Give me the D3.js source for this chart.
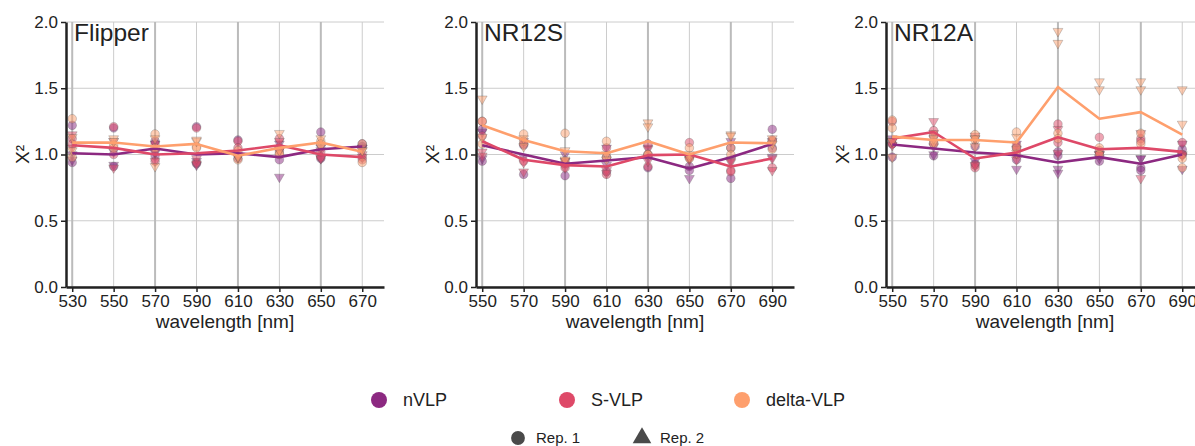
<!DOCTYPE html>
<html>
<head>
<meta charset="utf-8">
<script src="https://cdn.jsdelivr.net/npm/d3@7"></script>
<style>
  body { margin: 0; background: #fff; }
  text { font-family: "Liberation Sans", Arial, sans-serif; fill: #222; }
</style>
</head>
<body>
<div id="chart"></div>
<script>
// wavelengths (nm)
const flipperWaves = [530, 550, 570, 590, 610, 630, 650, 670];
const nr12Waves = [550, 570, 590, 610, 630, 650, 670, 690];

const seriesNames = ["nVLP", "S-VLP", "delta-VLP"];
const repNames = ["Rep. 1", "Rep. 2"];
const panelTitles = ["Flipper", "NR12S", "NR12A"];
const yTicks = [0, 0.5, 1, 1.5, 2];

// ---- Flipper: mean line + single measurements
const flipperNVLP = [1.01, 1.00, 1.045, 1.00, 1.01, 0.98, 1.04, 1.06];
const flipperSVLP = [1.07, 1.05, 1.00, 1.01, 1.03, 1.07, 1.00, 0.98];
const flipperDelta = [1.09, 1.09, 1.06, 1.08, 0.99, 1.05, 1.09, 1.02];
const flipperNVLPRep1 = [[1.22, 0.94], [1.20, 0.91], [1.10, 0.99], [1.21, 0.93], [1.11, 0.97], [1.05, 0.96], [1.17, 0.97], [1.08, 1.06]];
const flipperNVLPRep2 = [[1.00, 0.96], [1.02, 0.92], [1.08, 1.01], [0.95, 0.92], [0.98, 0.98], [1.08, 0.83], [1.05, 0.97], [1.05, 1.05]];
const flipperSVLPRep1 = [[1.12, 1.08], [1.21, 1.00], [1.08, 0.95], [1.20, 0.94], [1.10, 1.05], [1.12, 1.03], [1.02, 0.98], [0.98, 0.96]];
const flipperSVLPRep2 = [[1.15, 1.05], [1.10, 0.90], [1.02, 0.95], [0.97, 0.93], [0.99, 0.98], [1.10, 1.03], [1.03, 0.97], [1.00, 0.98]];
const flipperDeltaRep1 = [[1.27, 0.98], [1.07, 1.05], [1.155, 1.05], [1.06, 1.05], [1.03, 0.96], [1.01, 1.00], [1.10, 1.08], [1.08, 0.94]];
const flipperDeltaRep2 = [[1.13, 1.03], [1.12, 1.10], [0.91, 1.12], [1.10, 1.11], [0.99, 0.98], [1.16, 1.03], [1.12, 1.06], [1.03, 1.03]];

// ---- NR12S
const nr12sNVLP = [1.07, 1.00, 0.93, 0.955, 0.98, 0.895, 0.98, 1.08];
const nr12sSVLP = [1.10, 0.96, 0.92, 0.91, 0.995, 1.00, 0.91, 0.97];
const nr12sDelta = [1.22, 1.11, 1.025, 1.01, 1.10, 1.00, 1.09, 1.085];
const nr12sNVLPRep1 = [[1.19, 0.95], [1.07, 0.85], [0.93, 0.84], [0.98, 0.87], [1.00, 0.90], [0.91, 0.88], [1.05, 0.82], [1.19, 1.05]];
const nr12sNVLPRep2 = [[1.17, 0.97], [1.10, 0.98], [1.00, 0.95], [1.05, 0.92], [1.05, 0.97], [0.97, 0.82], [1.10, 0.96], [1.10, 0.98]];
const nr12sSVLPRep1 = [[1.25, 1.14], [1.08, 0.95], [0.93, 0.90], [1.05, 0.85], [1.08, 0.91], [1.09, 0.98], [0.88, 0.87], [1.11, 0.90]];
const nr12sSVLPRep2 = [[1.02, 0.99], [0.94, 0.87], [0.95, 0.90], [0.88, 0.86], [1.04, 0.95], [0.97, 0.96], [0.94, 0.95], [0.97, 0.88]];
const nr12sDeltaRep1 = [[1.25, 1.08], [1.155, 1.10], [1.16, 0.95], [1.10, 0.98], [1.00, 1.00], [1.05, 0.97], [1.05, 1.00], [1.10, 1.04]];
const nr12sDeltaRep2 = [[1.42, 1.13], [1.12, 1.06], [1.03, 0.96], [1.00, 0.96], [1.24, 1.21], [1.00, 0.98], [1.15, 1.14], [1.12, 1.08]];

// ---- NR12A
const nr12aNVLP = [1.075, 1.045, 1.015, 0.995, 0.94, 0.98, 0.93, 1.00];
const nr12aSVLP = [1.12, 1.17, 0.97, 1.015, 1.13, 1.04, 1.05, 1.02];
const nr12aDelta = [1.135, 1.11, 1.11, 1.09, 1.51, 1.27, 1.32, 1.15];
const nr12aNVLPRep1 = [[1.08, 0.98], [1.14, 0.99], [1.06, 0.93], [1.05, 0.96], [1.02, 0.99], [1.00, 0.95], [0.90, 0.88], [1.04, 1.00]];
const nr12aNVLPRep2 = [[1.12, 1.10], [1.06, 1.00], [1.12, 0.95], [1.08, 0.89], [0.89, 0.86], [1.00, 0.97], [0.97, 0.97], [1.08, 0.89]];
const nr12aSVLPRep1 = [[1.25, 1.08], [1.18, 1.09], [0.92, 0.90], [1.07, 1.00], [1.23, 1.09], [1.13, 1.03], [1.12, 1.10], [1.09, 1.00]];
const nr12aSVLPRep2 = [[1.07, 1.10], [1.25, 1.16], [1.14, 0.92], [1.04, 0.96], [1.19, 1.01], [1.00, 1.00], [1.16, 0.82], [1.00, 0.99]];
const nr12aDeltaRep1 = [[1.26, 1.20], [1.15, 1.08], [1.15, 1.11], [1.17, 1.05], [1.16, 1.12], [1.05, 1.00], [1.16, 1.08], [0.97, 0.90]];
const nr12aDeltaRep2 = [[1.10, 0.98], [1.12, 1.09], [1.12, 1.06], [1.13, 1.01], [1.93, 1.84], [1.55, 1.49], [1.55, 1.49], [1.49, 1.23]];

const COLORS = ["#8c2981", "#de4968", "#fe9f6d"];

const WIDTH = 1195;
const HEIGHT = 446;
const PANEL = { top: 22, width: 318, height: 265 };
const panelLeft = [66, 476, 886];

const panels = [
  { title: panelTitles[0], waves: flipperWaves, domain: [527, 680.5],
    means: [flipperNVLP, flipperSVLP, flipperDelta],
    rep1: [flipperNVLPRep1, flipperSVLPRep1, flipperDeltaRep1],
    rep2: [flipperNVLPRep2, flipperSVLPRep2, flipperDeltaRep2] },
  { title: panelTitles[1], waves: nr12Waves, domain: [547, 700.5],
    means: [nr12sNVLP, nr12sSVLP, nr12sDelta],
    rep1: [nr12sNVLPRep1, nr12sSVLPRep1, nr12sDeltaRep1],
    rep2: [nr12sNVLPRep2, nr12sSVLPRep2, nr12sDeltaRep2] },
  { title: panelTitles[2], waves: nr12Waves, domain: [547, 700.5],
    means: [nr12aNVLP, nr12aSVLP, nr12aDelta],
    rep1: [nr12aNVLPRep1, nr12aSVLPRep1, nr12aDeltaRep1],
    rep2: [nr12aNVLPRep2, nr12aSVLPRep2, nr12aDeltaRep2] },
];

const svg = d3.select("#chart")
  .append("svg")
  .attr("width", WIDTH)
  .attr("height", HEIGHT)
  .style("display", "block");

const triangleDown = d3.symbol().type(d3.symbolTriangle).size(42);

panels.forEach((p, k) => {
  const g = svg.append("g")
    .attr("transform", `translate(${panelLeft[k]}, ${PANEL.top})`);

  const x = d3.scaleLinear().domain(p.domain).range([0, PANEL.width]);
  const y = d3.scaleLinear().domain([0, 2]).range([PANEL.height, 0]);

  // grid
  g.append("g").selectAll("line")
    .data(yTicks)
    .join("line")
    .attr("x1", 0).attr("x2", PANEL.width)
    .attr("y1", d => y(d)).attr("y2", d => y(d))
    .attr("stroke", "#cccccc").attr("stroke-width", 1);

  g.append("g").selectAll("line")
    .data(p.waves)
    .join("line")
    .attr("x1", d => x(d)).attr("x2", d => x(d))
    .attr("y1", y(0)).attr("y2", y(2))
    .attr("stroke", (d, i) => i % 2 == 0 ? "#bbbbbb" : "#cccccc")
    .attr("stroke-width", (d, i) => i % 2 == 0 ? 2 : 1);

  // single measurements
  seriesNames.forEach((s, si) => {
    const pts1 = p.rep1[si].flatMap((vals, i) => vals.map(v => ({ w: p.waves[i], v })));
    const pts2 = p.rep2[si].flatMap((vals, i) => vals.map(v => ({ w: p.waves[i], v })));

    g.append("g").selectAll("circle")
      .data(pts1)
      .join("circle")
      .attr("cx", d => x(d.w))
      .attr("cy", d => y(d.v))
      .attr("r", 4.3)
      .attr("fill", COLORS[si])
      .attr("fill-opacity", 0.5)
      .attr("stroke", "#555")
      .attr("stroke-opacity", 0.35)
      .attr("stroke-width", 0.8);

    g.append("g").selectAll("path")
      .data(pts2)
      .join("path")
      .attr("d", triangleDown)
      .attr("transform", d => `translate(${x(d.w)}, ${y(d.v)}) rotate(180)`)
      .attr("fill", COLORS[si])
      .attr("fill-opacity", 0.5)
      .attr("stroke", "#555")
      .attr("stroke-opacity", 0.35)
      .attr("stroke-width", 0.8);
  });

  // mean lines
  const line = d3.line().x((d, i) => x(p.waves[i])).y(d => y(d));
  seriesNames.forEach((s, si) => {
    g.append("path")
      .datum(p.means[si])
      .attr("d", line)
      .attr("fill", "none")
      .attr("stroke", COLORS[si])
      .attr("stroke-width", 2.6)
      .attr("stroke-linejoin", "round");
  });

  // axes
  const yAxis = g.append("g")
    .call(d3.axisLeft(y).tickValues(yTicks).tickFormat(d3.format(".1f"))
      .tickSize(5).tickSizeOuter(0).tickPadding(3));
  yAxis.select(".domain").attr("stroke", "#222").attr("stroke-width", 2.5);
  yAxis.selectAll(".tick line").attr("stroke", "#222").attr("stroke-width", 1.5);
  yAxis.selectAll("text").style("font-size", "17px").attr("fill", "#222");

  const xAxis = g.append("g")
    .attr("transform", `translate(0, ${PANEL.height})`)
    .call(d3.axisBottom(x).tickValues(p.waves).tickFormat(d3.format("d"))
      .tickSize(5).tickSizeOuter(0).tickPadding(3));
  xAxis.select(".domain").attr("stroke", "#222").attr("stroke-width", 2.5);
  xAxis.selectAll(".tick line").attr("stroke", "#222").attr("stroke-width", 1.5);
  xAxis.selectAll("text").style("font-size", "17px").attr("fill", "#222");

  g.append("text")
    .attr("x", PANEL.width / 2)
    .attr("y", PANEL.height + 41)
    .attr("text-anchor", "middle")
    .style("font-size", "19px")
    .text("wavelength [nm]");

  g.append("text")
    .attr("transform", `translate(-44, ${y(1)}) rotate(-90)`)
    .attr("text-anchor", "middle")
    .attr("dy", "0.35em")
    .style("font-size", "19px")
    .text("Χ²");

  g.append("text")
    .attr("x", 8)
    .attr("y", 19)
    .style("font-size", "24.5px")
    .attr("fill", "#000")
    .text(p.title);
});

// legend: series colours
const legendX = [379, 567, 742];
const legend1 = svg.append("g").selectAll("g")
  .data(seriesNames)
  .join("g")
  .attr("transform", (d, i) => `translate(${legendX[i]}, 400)`);
legend1.append("circle").attr("r", 8).attr("fill", (d, i) => COLORS[i]);
legend1.append("text")
  .attr("x", 24).attr("dy", "0.35em")
  .style("font-size", "18px")
  .text(d => d);

// legend: replicates
const repX = [518, 642];
const legend2 = svg.append("g").selectAll("g")
  .data(repNames)
  .join("g")
  .attr("transform", (d, i) => `translate(${repX[i]}, 438)`);
legend2.append("path")
  .attr("d", (d, i) => i == 0
    ? d3.symbol().type(d3.symbolCircle).size(150)()
    : d3.symbol().type(d3.symbolTriangle).size(150)())
  .attr("fill", "#4a4a4a");
legend2.append("text")
  .attr("x", 18).attr("dy", "0.35em")
  .style("font-size", "15px")
  .text(d => d);
</script>
</body>
</html>
